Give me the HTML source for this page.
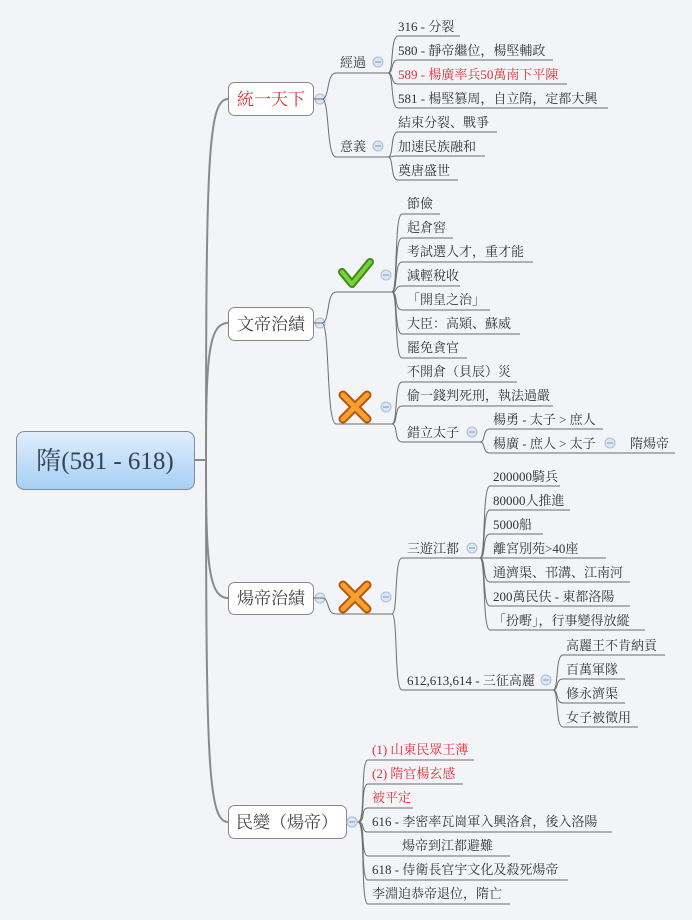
<!DOCTYPE html>
<html><head><meta charset="utf-8"><style>
html,body{margin:0;padding:0;background:#f3f4f8;}
svg{display:block;font-family:"Liberation Serif","Noto Serif CJK SC","Noto Sans CJK TC",serif;}
.l{fill:none;stroke:#6d6d6d;stroke-width:1;}
.t{font-size:13px;fill:#333;}
.r{fill:#e0303a;}
.m{font-size:17px;fill:#444;}
</style></head><body>
<svg width="692" height="920" viewBox="0 0 692 920" xmlns="http://www.w3.org/2000/svg">
<defs>
<linearGradient id="g" x1="0" y1="0" x2="0" y2="1"><stop offset="0" stop-color="#e0eefc"/><stop offset="1" stop-color="#a6cff5"/></linearGradient>
<g id="c"><circle r="5" fill="#dbe6f4" stroke="#a9bdd6"/><line x1="-3" y1="0" x2="3" y2="0" stroke="#7f95b5"/></g>
</defs>
<!-- trunk -->
<g fill="none" stroke="#8a8a8a" stroke-width="2">
<path d="M194,460 H206"/>
<path d="M206,460 C206,160 208,99 228,99"/>
<path d="M206,460 C206,360 208,323 228,323"/>
<path d="M206,460 C206,560 208,598 228,598"/>
<path d="M206,460 C206,760 208,822 228,822"/>
</g>
<!-- root -->
<rect x="16.5" y="431.5" width="178" height="58" rx="8" fill="url(#g)" stroke="#7f8d9e"/>
<text x="105" y="469" text-anchor="middle" font-size="25" fill="#345">隋(581 - 618)</text>
<!-- main boxes -->
<rect x="228.5" y="82.5" width="85" height="33" rx="6" fill="#fff" stroke="#888"/>
<text x="271" y="105" text-anchor="middle" class="m" fill="#e0303a" style="fill:#e0303a">統一天下</text>
<rect x="228.5" y="307.5" width="85" height="33" rx="6" fill="#fff" stroke="#888"/>
<text x="271" y="330" text-anchor="middle" class="m">文帝治績</text>
<rect x="228.5" y="582.5" width="85" height="32" rx="6" fill="#fff" stroke="#888"/>
<text x="271" y="604" text-anchor="middle" class="m">煬帝治績</text>
<rect x="228.5" y="805.5" width="118" height="33" rx="6" fill="#fff" stroke="#888"/>
<text x="287" y="828" text-anchor="middle" class="m">民變（煬帝）</text>
<use href="#c" x="320" y="99"/><use href="#c" x="320" y="323"/><use href="#c" x="320" y="598"/><use href="#c" x="352" y="822"/>
<!-- 統一天下 -->
<path class="l" d="M313,99 H322 C330,99 326,73 336,73 H388"/>
<path class="l" d="M322,99 C330,99 326,157 336,157 H388"/>
<text class="t" x="340" y="67">經過</text><text class="t" x="340" y="151">意義</text>
<use href="#c" x="378" y="62"/><use href="#c" x="378" y="146"/>
<g class="l">
<path d="M388,73 C394,73 390,36 398,36 H460"/>
<path d="M388,73 C394,73 390,60 398,60 H553"/>
<path d="M388,73 C394,73 390,84 398,84 H567"/>
<path d="M388,73 C394,73 390,108 398,108 H608"/>
<path d="M388,157 C394,157 390,132 398,132 H497"/>
<path d="M388,157 C394,157 390,156 398,156 H485"/>
<path d="M388,157 C394,157 390,180 398,180 H458"/>
</g>
<text class="t" x="398" y="31">316 - 分裂</text>
<text class="t" x="398" y="55">580 - 靜帝繼位，楊堅輔政</text>
<text class="t r" x="398" y="79">589 - 楊廣率兵50萬南下平陳</text>
<text class="t" x="398" y="103">581 - 楊堅篡周，自立隋，定都大興</text>
<text class="t" x="398" y="127">結束分裂、戰爭</text>
<text class="t" x="398" y="151">加速民族融和</text>
<text class="t" x="398" y="175">奠唐盛世</text>
<!-- 文帝治績 -->
<path class="l" d="M313,323 H322 C330,323 326,292 336,292 H392"/>
<path class="l" d="M322,323 C330,323 326,424 336,424 H392"/>
<path d="M342,272 L352,284 L370,262" fill="none" stroke="#3a8a1c" stroke-width="8" stroke-linecap="round" stroke-linejoin="round"/>
<path d="M342,272 L352,284 L370,262" fill="none" stroke="#7cd03a" stroke-width="4" stroke-linecap="round" stroke-linejoin="round"/>
<g stroke-linecap="round"><path d="M343,395 L367,419 M367,395 L343,419" stroke="#b8560c" stroke-width="9"/><path d="M343,395 L367,419 M367,395 L343,419" stroke="#f5a030" stroke-width="5"/></g>
<use href="#c" x="386" y="275"/><use href="#c" x="386" y="407"/>
<g class="l">
<path d="M392,292 C398,292 394,214 402,214 H440"/>
<path d="M392,292 C398,292 394,238 402,238 H453"/>
<path d="M392,292 C398,292 394,262 402,262 H533"/>
<path d="M392,292 C398,292 394,286 402,286 H460"/>
<path d="M392,292 C398,292 394,310 402,310 H490"/>
<path d="M392,292 C398,292 394,334 402,334 H520"/>
<path d="M392,292 C398,292 394,358 402,358 H467"/>
<path d="M392,424 C398,424 394,382 402,382 H517"/>
<path d="M392,424 C398,424 394,406 402,406 H553"/>
<path d="M392,424 C398,424 394,442 402,442 H480"/>
<path d="M480,442 C486,442 482,429 490,429 H603"/>
<path d="M480,442 C486,442 482,453 490,453 H675"/>
</g>
<text class="t" x="407" y="208">節儉</text>
<text class="t" x="407" y="232">起倉窖</text>
<text class="t" x="407" y="256">考試選人才，重才能</text>
<text class="t" x="407" y="280">減輕稅收</text>
<text class="t" x="407" y="304">「開皇之治」</text>
<text class="t" x="407" y="328">大臣：高熲、蘇威</text>
<text class="t" x="407" y="352">罷免貪官</text>
<text class="t" x="407" y="376">不開倉（貝辰）災</text>
<text class="t" x="407" y="400">偷一錢判死刑，執法過嚴</text>
<text class="t" x="407" y="437">錯立太子</text>
<use href="#c" x="472" y="432"/>
<text class="t" x="493" y="424">楊勇 - 太子 &gt; 庶人</text>
<text class="t" x="493" y="448">楊廣 - 庶人 &gt; 太子</text>
<use href="#c" x="610" y="443"/>
<text class="t" x="630" y="448">隋煬帝</text>
<!-- 煬帝治績 -->
<path class="l" d="M313,598 H322 C330,598 326,614 336,614 H392"/>
<g stroke-linecap="round"><path d="M343,585 L367,609 M367,585 L343,609" stroke="#b8560c" stroke-width="9"/><path d="M343,585 L367,609 M367,585 L343,609" stroke="#f5a030" stroke-width="5"/></g>
<use href="#c" x="386" y="597"/>
<g class="l">
<path d="M392,614 C398,614 394,558 402,558 H480"/>
<path d="M392,614 C398,614 394,690 402,690 H553"/>
<path d="M480,558 C486,558 482,486 490,486 H560"/>
<path d="M480,558 C486,558 482,510 490,510 H570"/>
<path d="M480,558 C486,558 482,534 490,534 H543"/>
<path d="M480,558 C486,558 482,558 490,558 H606"/>
<path d="M480,558 C486,558 482,582 490,582 H630"/>
<path d="M480,558 C486,558 482,606 490,606 H630"/>
<path d="M480,558 C486,558 482,630 490,630 H645"/>
<path d="M553,690 C559,690 555,655 563,655 H665"/>
<path d="M553,690 C559,690 555,679 563,679 H625"/>
<path d="M553,690 C559,690 555,703 563,703 H625"/>
<path d="M553,690 C559,690 555,727 563,727 H638"/>
</g>
<text class="t" x="407" y="553">三遊江都</text><use href="#c" x="472" y="548"/>
<text class="t" x="407" y="685">612,613,614 - 三征高麗</text><use href="#c" x="546" y="680"/>
<text class="t" x="493" y="481">200000騎兵</text>
<text class="t" x="493" y="505">80000人推進</text>
<text class="t" x="493" y="529">5000船</text>
<text class="t" x="493" y="553">離宮別苑&gt;40座</text>
<text class="t" x="493" y="577">通濟渠、邗溝、江南河</text>
<text class="t" x="493" y="601">200萬民伕 - 東都洛陽</text>
<text class="t" x="493" y="625">「扮嘢」，行事變得放縱</text>
<text class="t" x="566" y="650">高麗王不肯納貢</text>
<text class="t" x="566" y="674">百萬軍隊</text>
<text class="t" x="566" y="698">修永濟渠</text>
<text class="t" x="566" y="722">女子被徵用</text>
<!-- 民變 -->
<g class="l">
<path d="M346,822 H358 C366,822 360,760 368,760 H474"/>
<path d="M358,822 C366,822 360,784 368,784 H463"/>
<path d="M358,822 C366,822 360,808 368,808 H413"/>
<path d="M358,822 C366,822 360,832 368,832 H612"/>
<path d="M358,822 C366,822 360,856 368,856 H510"/>
<path d="M358,822 C366,822 360,880 368,880 H568"/>
<path d="M358,822 C366,822 360,904 368,904 H510"/>
</g>
<use href="#c" x="352" y="822"/>
<text class="t r" x="372" y="754">(1) 山東民眾王薄</text>
<text class="t r" x="372" y="778">(2) 隋官楊玄感</text>
<text class="t r" x="372" y="802">被平定</text>
<text class="t" x="372" y="826">616 - 李密率瓦崗軍入興洛倉，後入洛陽</text>
<text class="t" x="402" y="850">煬帝到江都避難</text>
<text class="t" x="372" y="874">618 - 侍衛長官宇文化及殺死煬帝</text>
<text class="t" x="372" y="898">李淵迫恭帝退位，隋亡</text>
</svg>
</body></html>
